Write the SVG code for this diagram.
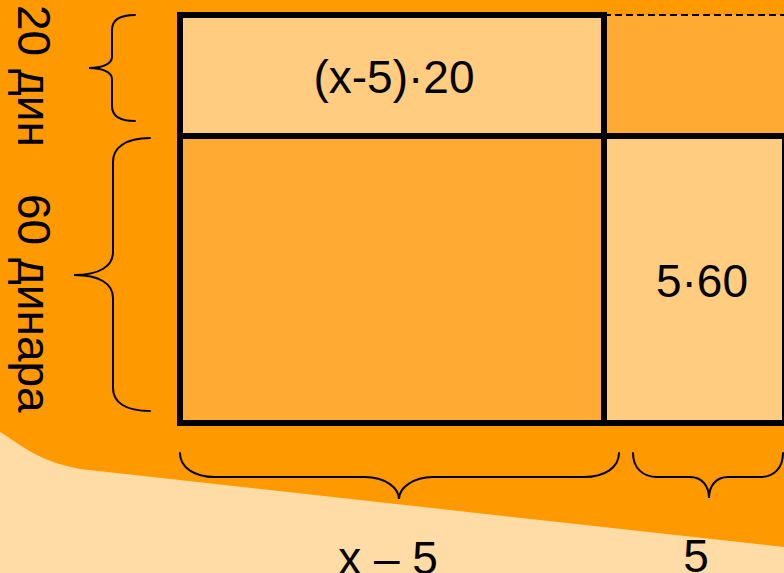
<svg xmlns="http://www.w3.org/2000/svg" width="784" height="573" viewBox="0 0 784 573">
  <style>
    .lbl { font-family: "Liberation Sans", Arial, sans-serif; font-size: 46px; fill: #000; }
    .mid { text-anchor: middle; }
    .brace { fill: none; stroke: #000; stroke-width: 2; stroke-linecap: round; }
    .edge { stroke: #000; stroke-width: 6; fill: none; }
    .light { fill: #FFCC80; }
    .medium { fill: #FFAA33; }
  </style>
  <g id="background">
    <rect x="0" y="0" width="784" height="573" fill="#FF9900"/>
    <path d="M0,432 C10,438 20,446 35,454 C50,462 65,466 80,469 L784,547 L784,573 L0,573 Z" fill="#FFDCA5"/>
  </g>
  <g id="top-left-area">
    <rect class="light" x="180" y="15" width="424" height="121"/>
    <text class="lbl mid" x="394" y="93">(x-5)·20</text>
  </g>
  <g id="top-right-area">
    <rect class="medium" x="604" y="15" width="190" height="121"/>
    <line x1="604" y1="15" x2="784" y2="15" stroke="#000" stroke-width="2" stroke-dasharray="7,4"/>
  </g>
  <g id="bottom-left-area">
    <rect class="medium" x="180" y="136" width="424" height="287"/>
  </g>
  <g id="bottom-right-area">
    <rect class="light" x="604" y="136" width="181" height="287"/>
    <text class="lbl mid" x="702" y="297">5·60</text>
  </g>
  <g id="borders">
    <rect class="edge" x="180" y="15" width="424" height="408"/>
    <line class="edge" x1="180" y1="136" x2="790" y2="136"/>
    <line class="edge" x1="601" y1="423" x2="790" y2="423"/>
    <line class="edge" x1="785" y1="136" x2="785" y2="426"/>
  </g>
  <g id="connectors">
    <path class="brace" d="M135,15 C120,15 112,20 112,30 L112,57 C112,64 102,68 89,68 C102,68 112,72 112,79 L112,106 C112,116 120,121 135,121"/>
    <path class="brace" d="M150,138 C125,138 113,148 113,162 L113,252 C113,266 100,275 74,275 C100,275 113,284 113,298 L113,388 C113,402 125,411 150,411"/>
    <path class="brace" d="M180,453 C180,468 195,477 215,477 L365,477 C385,477 399,488 399,499 C399,488 413,477 433,477 L584,477 C604,477 619,468 619,453"/>
    <path class="brace" d="M633,453 C633,468 643,477 657,477 L690,477 C702,477 709,486 709,498 C709,486 716,477 728,477 L760,477 C774,477 783,468 783,453"/>
  </g>
  <g id="label-20">
    <text class="lbl" transform="translate(18,5) rotate(90)">20 дин</text>
  </g>
  <g id="label-60">
    <text class="lbl" transform="translate(18,194) rotate(90)">60 динара</text>
  </g>
  <g id="label-x5">
    <text class="lbl mid" x="388" y="574">x – 5</text>
  </g>
  <g id="label-5">
    <text class="lbl mid" x="696" y="572">5</text>
  </g>
</svg>
